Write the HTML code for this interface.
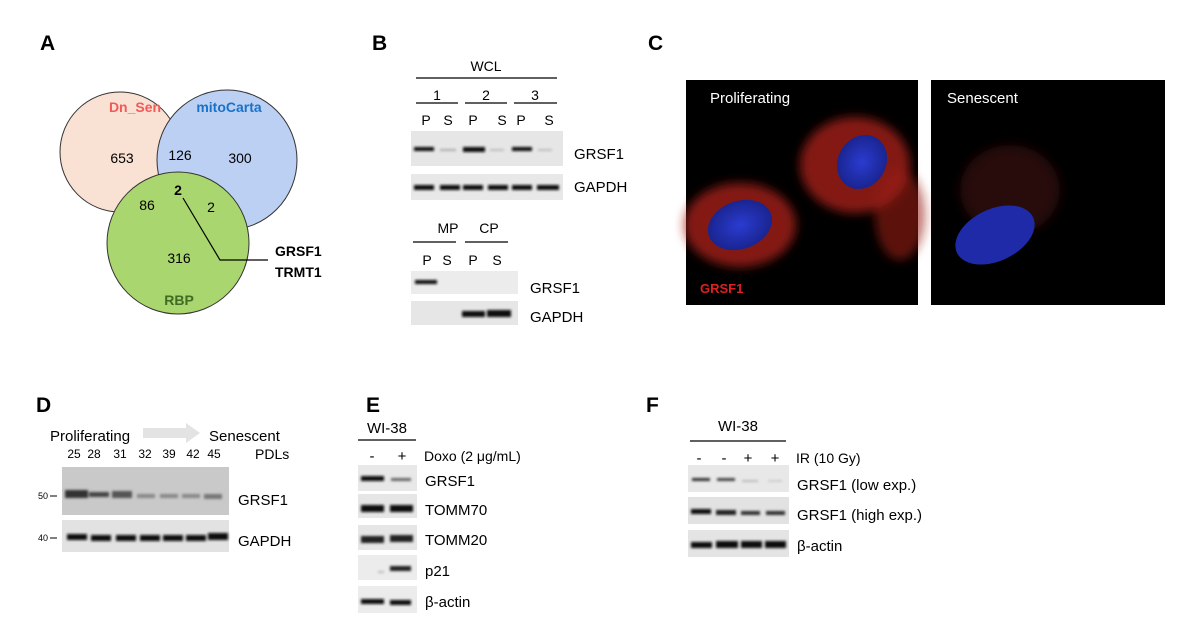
<!DOCTYPE html>
<html><head><meta charset="utf-8"><style>
html,body{margin:0;padding:0;background:#fff;}
svg{display:block;font-family:"Liberation Sans",Arial,sans-serif;}
</style></head><body>
<svg width="1200" height="644" viewBox="0 0 1200 644" xmlns="http://www.w3.org/2000/svg">
<defs>
<filter id="bl" x="-20%" y="-50%" width="140%" height="200%"><feGaussianBlur stdDeviation="1.2"/></filter>
<filter id="bl2"><feGaussianBlur stdDeviation="5"/></filter>
<radialGradient id="nuc" cx="50%" cy="50%" r="50%"><stop offset="0" stop-color="#2a3cd0"/><stop offset="1" stop-color="#1a2490"/></radialGradient>
</defs>
<g font-weight="bold" font-size="21" fill="#000">
<text x="40" y="50">A</text><text x="372" y="50">B</text><text x="648" y="50">C</text>
<text x="36" y="412">D</text><text x="366" y="412">E</text><text x="646" y="412">F</text>
</g>
<circle cx="120" cy="152" r="60" fill="#f9e1d3" stroke="#333" stroke-width="1"/>
<circle cx="227" cy="160" r="70" fill="#bcd0f3" stroke="#333" stroke-width="1"/>
<circle cx="178" cy="243" r="71" fill="#a9d66e" stroke="#333" stroke-width="1"/>
<g font-size="14" text-anchor="middle">
<text x="135" y="112" fill="#f25a5a" font-weight="bold">Dn_Sen</text>
<text x="229" y="112" fill="#1a72c8" font-weight="bold">mitoCarta</text>
<text x="122" y="163">653</text><text x="180" y="160">126</text><text x="240" y="163">300</text>
<text x="178" y="195" font-weight="bold">2</text>
<text x="147" y="210">86</text><text x="211" y="212">2</text>
<text x="179" y="263">316</text>
<text x="179" y="305" fill="#3f6b23" font-weight="bold">RBP</text>
</g>
<polyline points="183,198 220,260 268,260" fill="none" stroke="#000" stroke-width="1.2"/>
<g font-size="14" font-weight="bold"><text x="275" y="256">GRSF1</text><text x="275" y="277">TRMT1</text></g>
<g font-size="14" text-anchor="middle">
<text x="486" y="71">WCL</text>
<text x="437" y="100">1</text><text x="486" y="100">2</text><text x="535" y="100">3</text>
<text x="426" y="125">P</text><text x="448" y="125">S</text><text x="473" y="125">P</text><text x="502" y="125">S</text><text x="521" y="125">P</text><text x="549" y="125">S</text>
<text x="448" y="233">MP</text><text x="489" y="233">CP</text>
<text x="427" y="265">P</text><text x="447" y="265">S</text><text x="473" y="265">P</text><text x="497" y="265">S</text>
</g>
<g stroke="#000" stroke-width="1.3">
<line x1="416" y1="78" x2="557" y2="78"/>
<line x1="416" y1="103" x2="458" y2="103"/><line x1="465" y1="103" x2="507" y2="103"/><line x1="514" y1="103" x2="557" y2="103"/>
<line x1="413" y1="242" x2="456" y2="242"/><line x1="465" y1="242" x2="508" y2="242"/>
</g>
<rect x="411" y="131" width="152" height="35" fill="#e6e6e6"/>
<rect x="411" y="174" width="152" height="26" fill="#e8e8e8"/>
<g filter="url(#bl)">
<rect x="414" y="147" width="20" height="4" fill="#111"/><rect x="440" y="149" width="16" height="2" fill="#aaa"/>
<rect x="463" y="147" width="22" height="5" fill="#111"/><rect x="490" y="149" width="14" height="2" fill="#bbb"/>
<rect x="512" y="147" width="20" height="4" fill="#111"/><rect x="538" y="149" width="14" height="2" fill="#bbb"/>
<rect x="414" y="185" width="20" height="5" fill="#111"/><rect x="440" y="185" width="20" height="5" fill="#111"/><rect x="463" y="185" width="20" height="5" fill="#111"/><rect x="488" y="185" width="20" height="5" fill="#111"/><rect x="512" y="185" width="20" height="5" fill="#111"/><rect x="537" y="185" width="22" height="5" fill="#111"/>
</g>
<rect x="411" y="271" width="107" height="23" fill="#ececec"/>
<rect x="411" y="301" width="107" height="24" fill="#e6e6e6"/>
<g filter="url(#bl)">
<rect x="415" y="280" width="22" height="4" fill="#111"/>
<rect x="462" y="311" width="23" height="6" fill="#111"/><rect x="487" y="310" width="24" height="7" fill="#111"/>
</g>
<g font-size="15"><text x="574" y="159">GRSF1</text><text x="574" y="192">GAPDH</text><text x="530" y="293">GRSF1</text><text x="530" y="322">GAPDH</text></g>
<rect x="686" y="80" width="232" height="225" fill="#000"/>
<rect x="931" y="80" width="234" height="225" fill="#000"/>
<g filter="url(#bl2)">
<ellipse cx="740" cy="225" rx="56" ry="42" fill="#b0221c" opacity="0.75"/>
<ellipse cx="855" cy="165" rx="55" ry="48" fill="#b0221c" opacity="0.75"/>
<ellipse cx="900" cy="215" rx="25" ry="45" fill="#9a1c18" opacity="0.6"/>
<ellipse cx="1010" cy="190" rx="50" ry="45" fill="#501010" opacity="0.5"/>
</g>
<ellipse cx="740" cy="225" rx="33" ry="24" fill="url(#nuc)" transform="rotate(-20 740 225)"/>
<ellipse cx="862" cy="162" rx="24" ry="28" fill="url(#nuc)" transform="rotate(30 862 162)"/>
<ellipse cx="995" cy="235" rx="42" ry="26" fill="#1e2aa8" transform="rotate(-25 995 235)"/>
<g font-size="15" fill="#fff"><text x="710" y="103">Proliferating</text><text x="947" y="103">Senescent</text></g>
<text x="700" y="293" font-size="13" font-weight="bold" fill="#e02020">GRSF1</text>
<g font-size="15"><text x="50" y="441">Proliferating</text><text x="209" y="441">Senescent</text></g>
<polygon points="143,428 186,428 186,423 200,433 186,443 186,438 143,438" fill="#e3e3e3"/>
<g font-size="12" text-anchor="middle">
<text x="74" y="458">25</text><text x="94" y="458">28</text><text x="120" y="458">31</text><text x="145" y="458">32</text><text x="169" y="458">39</text><text x="193" y="458">42</text><text x="214" y="458">45</text>
</g>
<text x="255" y="459" font-size="14">PDLs</text>
<rect x="62" y="467" width="167" height="48" fill="#c9c9c9"/>
<rect x="62" y="520" width="167" height="32" fill="#e2e2e2"/>
<g filter="url(#bl)">
<rect x="65" y="490" width="23" height="8" fill="#333"/><rect x="89" y="492" width="20" height="5" fill="#444"/><rect x="112" y="491" width="20" height="7" fill="#555"/>
<rect x="137" y="494" width="18" height="4" fill="#888"/><rect x="160" y="494" width="18" height="4" fill="#888"/><rect x="182" y="494" width="18" height="4" fill="#888"/><rect x="204" y="494" width="18" height="5" fill="#777"/>
<rect x="67" y="534" width="20" height="6" fill="#111"/><rect x="91" y="535" width="20" height="6" fill="#111"/><rect x="116" y="535" width="20" height="6" fill="#111"/><rect x="140" y="535" width="20" height="6" fill="#111"/><rect x="163" y="535" width="20" height="6" fill="#111"/><rect x="186" y="535" width="20" height="6" fill="#111"/><rect x="208" y="533" width="20" height="7" fill="#111"/>
</g>
<g font-size="9"><text x="38" y="499">50</text><text x="38" y="541">40</text></g>
<line x1="50" y1="496" x2="57" y2="496" stroke="#000"/><line x1="50" y1="538" x2="57" y2="538" stroke="#000"/>
<g font-size="15"><text x="238" y="505">GRSF1</text><text x="238" y="546">GAPDH</text></g>
<text x="387" y="433" font-size="15" text-anchor="middle">WI-38</text>
<line x1="358" y1="440" x2="416" y2="440" stroke="#000" stroke-width="1.3"/>
<g font-size="15" text-anchor="middle"><text x="372" y="461">-</text><text x="402" y="461">+</text></g>
<text x="424" y="461" font-size="14">Doxo (2 μg/mL)</text>
<rect x="358" y="465" width="59" height="26" fill="#e8e8e8"/>
<rect x="358" y="494" width="59" height="24" fill="#e6e6e6"/>
<rect x="358" y="525" width="59" height="25" fill="#e6e6e6"/>
<rect x="358" y="555" width="59" height="25" fill="#ececec"/>
<rect x="358" y="586" width="59" height="27" fill="#ececec"/>
<g filter="url(#bl)">
<rect x="361" y="476" width="23" height="5" fill="#111"/><rect x="391" y="478" width="20" height="3" fill="#666"/>
<rect x="361" y="505" width="23" height="7" fill="#111"/><rect x="390" y="505" width="23" height="7" fill="#111"/>
<rect x="361" y="536" width="23" height="7" fill="#222"/><rect x="390" y="535" width="23" height="7" fill="#222"/>
<rect x="378" y="571" width="6" height="2" fill="#bbb"/><rect x="390" y="566" width="21" height="5" fill="#222"/>
<rect x="361" y="599" width="23" height="5" fill="#111"/><rect x="390" y="600" width="21" height="5" fill="#111"/>
</g>
<g font-size="15"><text x="425" y="486">GRSF1</text><text x="425" y="515">TOMM70</text><text x="425" y="545">TOMM20</text><text x="425" y="576">p21</text><text x="425" y="607">β-actin</text></g>
<text x="738" y="431" font-size="15" text-anchor="middle">WI-38</text>
<line x1="690" y1="441" x2="786" y2="441" stroke="#000" stroke-width="1.3"/>
<g font-size="15" text-anchor="middle"><text x="699" y="463">-</text><text x="724" y="463">-</text><text x="748" y="463">+</text><text x="775" y="463">+</text></g>
<text x="796" y="463" font-size="14">IR (10 Gy)</text>
<rect x="688" y="465" width="101" height="27" fill="#e8e8e8"/>
<rect x="688" y="497" width="101" height="27" fill="#e2e2e2"/>
<rect x="688" y="530" width="101" height="27" fill="#e4e4e4"/>
<g filter="url(#bl)">
<rect x="692" y="478" width="18" height="3" fill="#333"/><rect x="717" y="478" width="18" height="3" fill="#444"/><rect x="742" y="480" width="16" height="2" fill="#bbb"/><rect x="768" y="480" width="14" height="2" fill="#ccc"/>
<rect x="691" y="509" width="20" height="5" fill="#111"/><rect x="716" y="510" width="20" height="5" fill="#222"/><rect x="741" y="511" width="19" height="4" fill="#333"/><rect x="766" y="511" width="19" height="4" fill="#333"/>
<rect x="691" y="542" width="21" height="6" fill="#111"/><rect x="716" y="541" width="22" height="7" fill="#111"/><rect x="741" y="541" width="21" height="7" fill="#111"/><rect x="765" y="541" width="21" height="7" fill="#111"/>
</g>
<g font-size="15"><text x="797" y="490">GRSF1 (low exp.)</text><text x="797" y="520">GRSF1 (high exp.)</text><text x="797" y="551">β-actin</text></g>
</svg>
</body></html>
